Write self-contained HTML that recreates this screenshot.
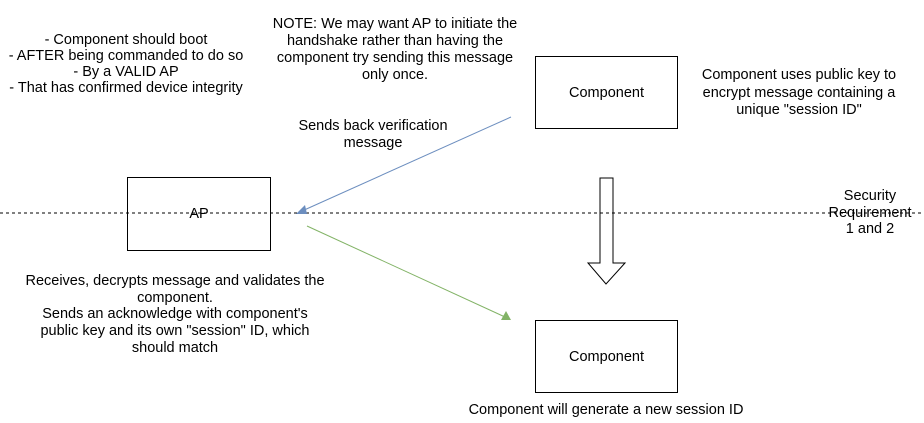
<!DOCTYPE html>
<html><head><style>
body{margin:0;width:924px;height:423px;background:#fff;position:relative;font-family:"Liberation Sans",sans-serif;font-size:14.5px;color:#000;overflow:hidden}
.t{position:absolute;text-align:center;line-height:17px;white-space:nowrap}
.b{position:absolute;border:1px solid #000;box-sizing:border-box;display:flex;align-items:center;justify-content:center;font-size:14.5px}
</style></head><body>
<svg width="924" height="423" style="position:absolute;left:0;top:0">
<line x1="0" y1="213" x2="924" y2="213" stroke="#000" stroke-dasharray="3,3"/>
<line x1="511" y1="117" x2="302" y2="211" stroke="#6c8ebf" stroke-width="1"/>
<polygon points="296,214 305,205 307,214" fill="#6c8ebf"/>
<line x1="307" y1="226" x2="505" y2="317" stroke="#82b366" stroke-width="1"/>
<polygon points="511,320 501,320 506,311" fill="#82b366"/>
<polygon points="600,178 613,178 613,263 625,263 606,284 588,263 600,263" fill="none" stroke="#000"/>
</svg>
<div class="b" style="left:127px;top:177px;width:144px;height:74px">AP</div>
<div class="b" style="left:535px;top:56px;width:143px;height:73px">Component</div>
<div class="b" style="left:535px;top:320px;width:143px;height:73px">Component</div>
<div class="t" style="left:-24px;top:32px;width:300px;line-height:16px">- Component should boot<br>- AFTER being commanded to do so<br>- By a VALID AP<br>- That has confirmed device integrity</div>
<div class="t" style="left:245px;top:16px;width:300px">NOTE: We may want AP to initiate the<br>handshake rather than having the<br>component try sending this message<br>only once.</div>
<div class="t" style="left:679px;top:67px;width:240px;line-height:17.5px">Component uses public key to<br>encrypt message containing a<br>unique "session ID"</div>
<div class="t" style="left:288px;top:118px;width:170px">Sends back verification<br>message</div>
<div class="t" style="left:820px;top:188px;width:100px;line-height:16.5px">Security<br>Requirement<br>1 and 2</div>
<div class="t" style="left:-5px;top:273px;width:360px;line-height:16.7px">Receives, decrypts message and validates the<br>component.<br>Sends an acknowledge with component's<br>public key and its own "session" ID, which<br>should match</div>
<div class="t" style="left:426px;top:402px;width:360px">Component will generate a new session ID</div>
</body></html>
